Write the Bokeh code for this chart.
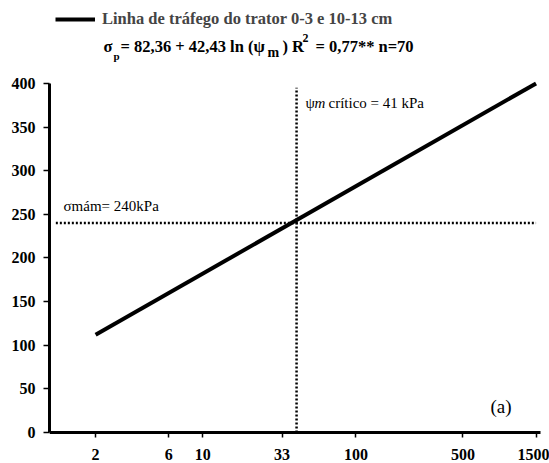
from bokeh.plotting import figure
from bokeh.models import (Range1d, FixedTicker, NumeralTickFormatter, Label,
                          Legend, LegendItem)
from bokeh.embed import file_html
from bokeh.resources import INLINE

# ---- data ----
x_ticks = [2, 6, 10, 33, 100, 500, 1500]
y_ticks = [0, 50, 100, 150, 200, 250, 300, 350, 400]
line_x = [2, 1500]          # matric potential (kPa)
line_y = [112, 400]         # precompression stress (kPa)
psi_crit = 41               # critical matric potential
sigma_mam = 240             # sigma mam
vline_y = [0, 395]
hline_x = [1.1, 1500]
legend_text = "Linha de tráfego do trator 0-3 e 10-13 cm"

FONT = "'Liberation Serif', 'Times New Roman', serif"

p = figure(width=549, height=463, x_axis_type="log",
           x_range=Range1d(1, 1836), y_range=Range1d(-35.5, 495),
           output_backend="svg", toolbar_location=None,
           min_border_left=49, min_border_right=0,
           min_border_top=0, min_border_bottom=0)
p.outline_line_color = None
p.grid.visible = False
p.background_fill_color = "white"

# axes
for ax in (p.xaxis[0], p.yaxis[0]):
    ax.axis_line_width = 3
    ax.axis_line_color = "black"
    ax.major_tick_line_width = 1.5
    ax.major_tick_line_color = "black"
    ax.major_tick_in = 0
    ax.minor_tick_line_color = None
    ax.major_label_text_font = FONT
    ax.major_label_text_font_style = "bold"
    ax.major_label_text_color = "black"
    ax.major_label_text_font_size = "16px"

p.xaxis.ticker = FixedTicker(ticks=x_ticks)
p.xaxis.formatter = NumeralTickFormatter(format="0")
p.xaxis.fixed_location = 0
p.xaxis.bounds = (1, 1600)
p.xaxis.major_tick_out = 5
p.xaxis.major_label_standoff = 11

p.yaxis.ticker = FixedTicker(ticks=y_ticks)
p.yaxis.bounds = (0, 400)
p.yaxis.major_tick_out = 6
p.yaxis.major_label_standoff = 8

# main line
r = p.line(line_x, line_y, line_color="black", line_width=4)

# dotted reference lines
p.line([psi_crit, psi_crit], vline_y, line_color="black", line_width=2.5,
       line_dash="2 2")
p.line(hline_x, [sigma_mam, sigma_mam], line_color="black", line_width=2.5,
       line_dash="2 2")

DY = 31  # frame bottom lies 31px below the x axis line

# legend
legend = Legend(items=[LegendItem(label=legend_text, renderers=[r])],
                location=(6, 403 + DY), glyph_width=40, glyph_height=20,
                label_standoff=7, label_text_font=FONT,
                label_text_font_size="16.5px", label_text_font_style="bold",
                padding=0, margin=0, border_line_color=None,
                background_fill_alpha=0)
p.add_layout(legend)

def lab(x, y, text, size="16.5px", style="bold"):
    p.add_layout(Label(x=x, y=y + DY, x_units="screen", y_units="screen",
                       text=text, text_font=FONT, text_font_size=size,
                       text_font_style=style, text_baseline="middle",
                       text_align="left", text_color="black"))

# equation line
lab(54, 386, "σ")
lab(64, 377, "p", size="11px")
lab(71, 386, "= 82,36 + 42,43 ln (ψ")
lab(218, 380, "m", size="14px")
lab(233, 386, ") R")
lab(253, 395, "2", size="12px")
lab(266, 386, "= 0,77** n=70")

# annotations
lab(256, 330, "ψ", size="15px", style="normal")
lab(265, 330, "m", size="15px", style="italic")
lab(279, 330, "crítico = 41 kPa", size="15px", style="normal")
lab(14, 227, "σmám= 240kPa", size="15px", style="normal")
lab(441, 26, "(a)", size="19px", style="normal")

open("out.html", "w").write(file_html(p, INLINE))
